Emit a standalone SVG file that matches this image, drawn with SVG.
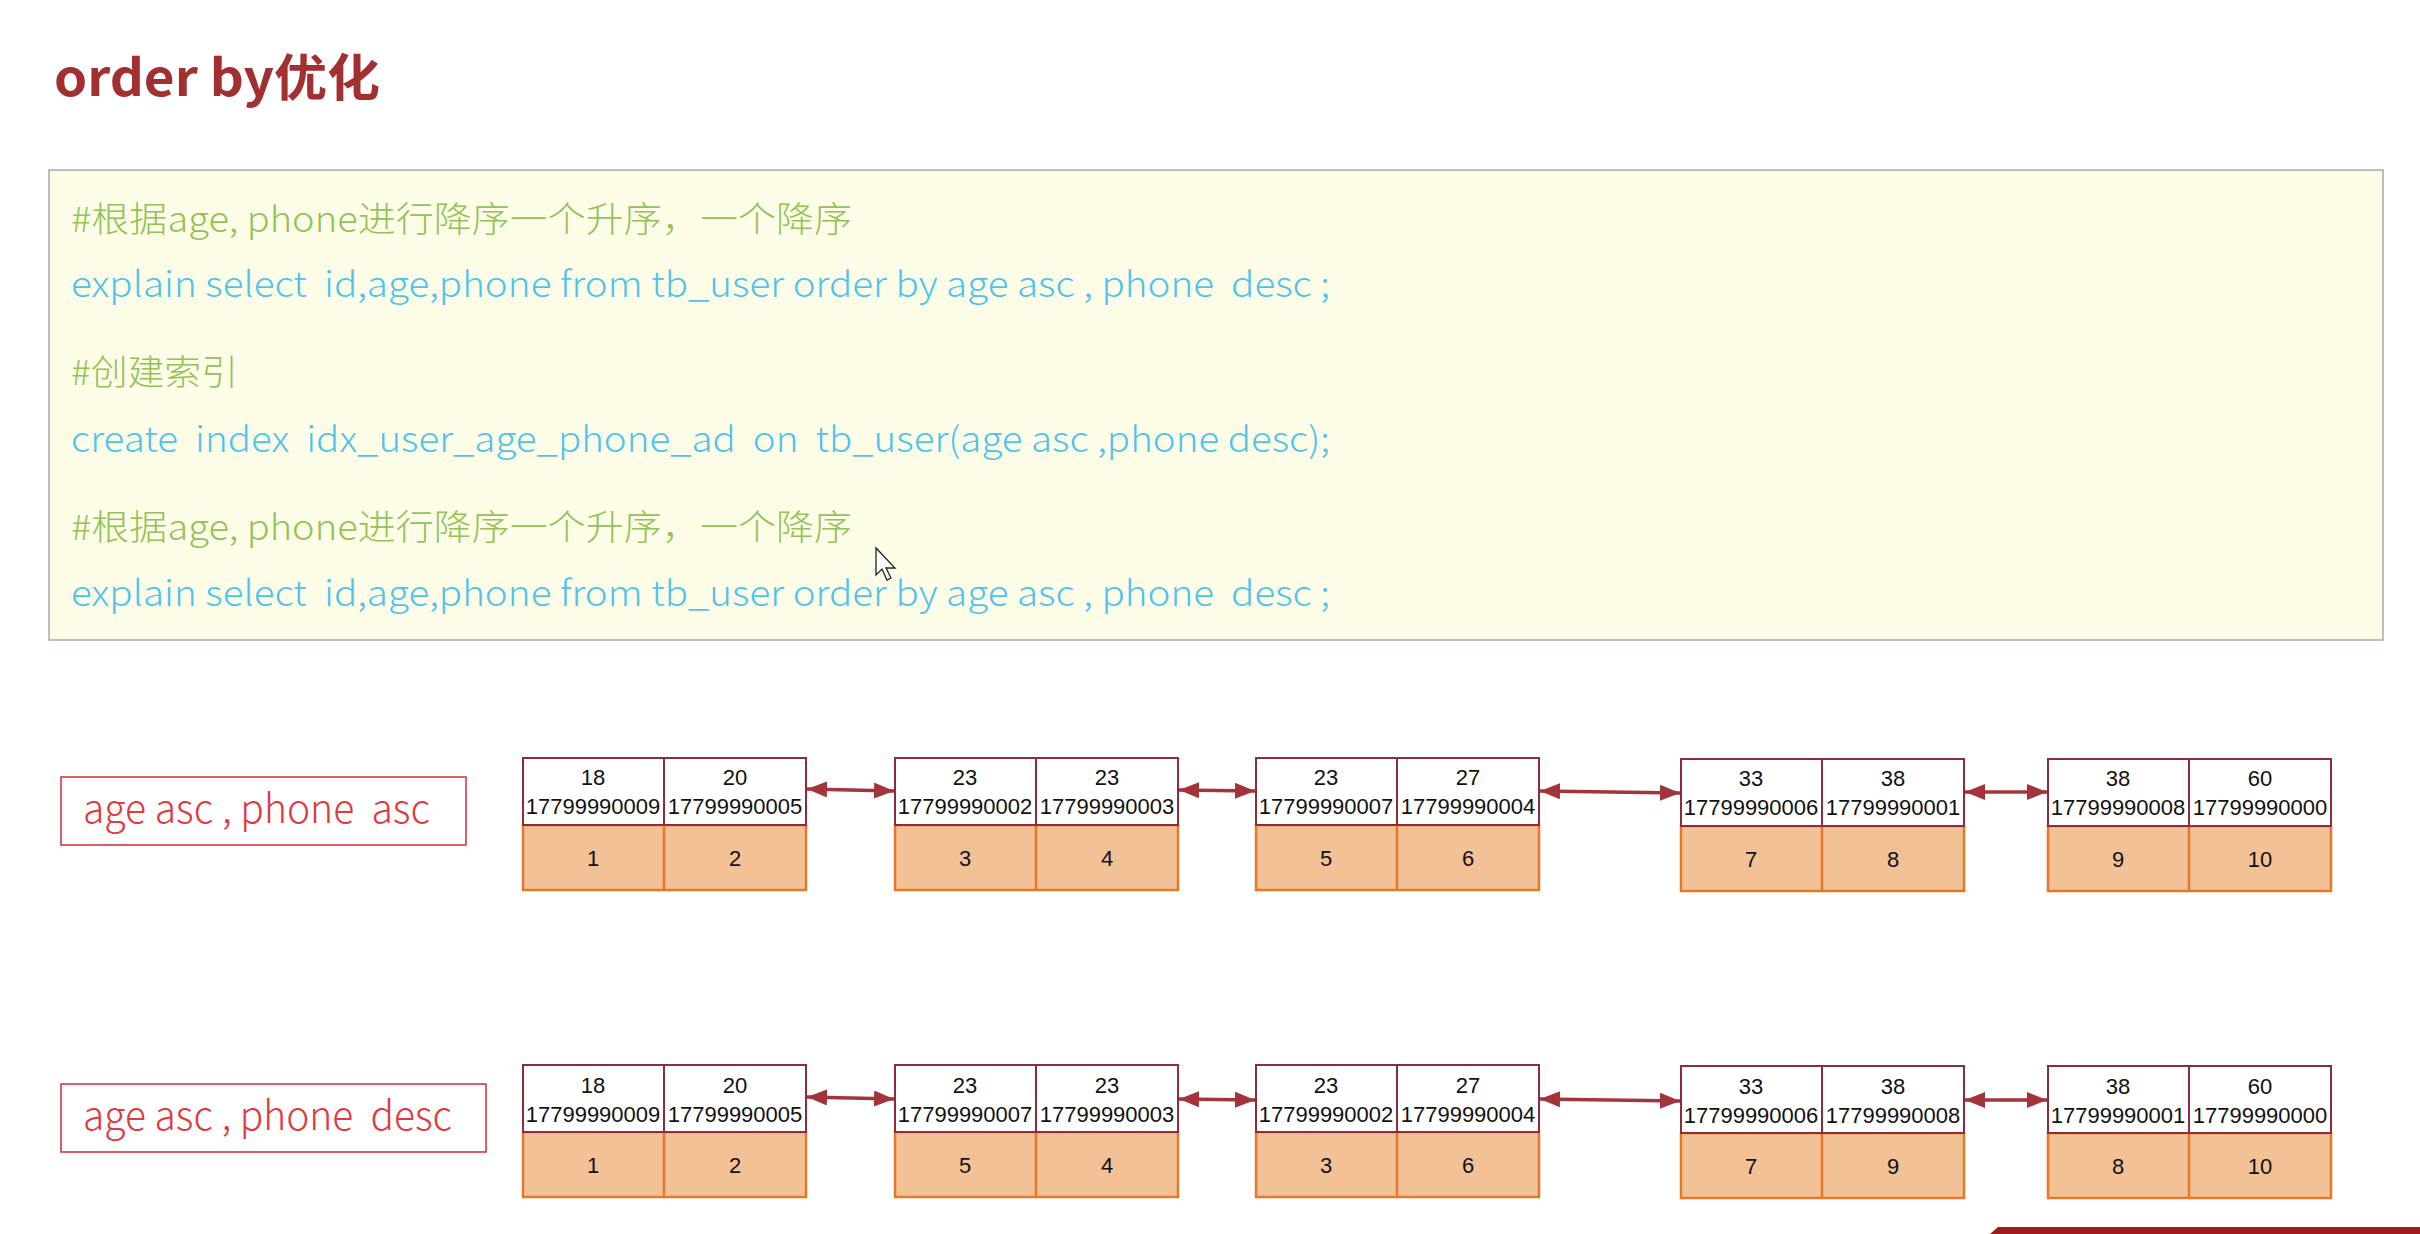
<svg xmlns="http://www.w3.org/2000/svg" width="2420" height="1234" viewBox="0 0 2420 1234">
<style>
.title{font-family:"Noto Sans CJK SC","Liberation Sans",sans-serif;font-weight:700;font-size:50px;fill:#a33030}
.code{font-family:"Noto Sans CJK SC","Liberation Sans",sans-serif;font-size:35px;font-weight:300;white-space:pre}
.cm{fill:#93c256}
.sql{fill:#4fc3ec}
.lbl{fill:#fff;stroke:#d8383e;stroke-width:1.6}
.lbt{font-family:"Noto Sans CJK SC","Liberation Sans",sans-serif;font-size:40px;font-weight:300;fill:#e03a3e;white-space:pre}
.key{fill:#fff;stroke:#8e2c3c;stroke-width:2}
.val{fill:#f2c196;stroke:#e5782a;stroke-width:2.5}
.t{font-family:"Liberation Sans",Arial,sans-serif;font-size:22px;fill:#111;text-anchor:middle}
.arr{stroke:#a3343a;stroke-width:3.5;fill:none;marker-start:url(#ah);marker-end:url(#ah)}
</style>
<defs>
<marker id="ah" viewBox="0 0 20 16" refX="20" refY="8" markerWidth="20" markerHeight="16" markerUnits="userSpaceOnUse" orient="auto-start-reverse">
<path d="M0,0 L20,8 L0,16 z" fill="#a3343a"/>
</marker>
<g id="nodeshape">
<rect class="val" x="0" y="67" width="283" height="65"/>
<line x1="141" y1="67" x2="141" y2="132" stroke="#e5782a" stroke-width="2.5"/>
<rect class="key" x="0" y="0" width="283" height="67"/>
<line x1="141" y1="0" x2="141" y2="67" stroke="#8e2c3c" stroke-width="2"/>
</g>
</defs>
<rect x="0" y="0" width="2420" height="1234" fill="#ffffff"/>
<text class="title" x="54" y="96" textLength="326" lengthAdjust="spacingAndGlyphs">order by优化</text>

<g id="codebox">
<rect x="49" y="170" width="2334" height="470" fill="#fdfde7" stroke="#aaaaa0" stroke-width="1.5"/>
<text class="code cm" x="71" y="232" textLength="781" lengthAdjust="spacingAndGlyphs">#根据age, phone进行降序一个升序，一个降序</text>
<text class="code sql" x="71" y="297" textLength="1259" lengthAdjust="spacingAndGlyphs">explain select  id,age,phone from tb_user order by age asc , phone  desc ;</text>
<text class="code cm" x="71" y="385" textLength="167" lengthAdjust="spacingAndGlyphs">#创建索引</text>
<text class="code sql" x="71" y="452" textLength="1259" lengthAdjust="spacingAndGlyphs">create  index  idx_user_age_phone_ad  on  tb_user(age asc ,phone desc);</text>
<text class="code cm" x="71" y="540" textLength="781" lengthAdjust="spacingAndGlyphs">#根据age, phone进行降序一个升序，一个降序</text>
<text class="code sql" x="71" y="606" textLength="1259" lengthAdjust="spacingAndGlyphs">explain select  id,age,phone from tb_user order by age asc , phone  desc ;</text>
</g>

<g id="label1">
<rect class="lbl" x="61" y="777" width="405" height="68"/>
<text class="lbt" x="83" y="823" textLength="347" lengthAdjust="spacingAndGlyphs">age asc , phone  asc</text>
</g>
<g id="label2">
<rect class="lbl" x="61" y="1084" width="425" height="68"/>
<text class="lbt" x="83" y="1130" textLength="369" lengthAdjust="spacingAndGlyphs">age asc , phone  desc</text>
</g>

<!-- Row 1 nodes -->
<g id="r1n1" transform="translate(523,758)">
<use href="#nodeshape"/>
<text class="t" x="70" y="27">18</text><text class="t" x="70" y="56">17799990009</text><text class="t" x="70" y="108">1</text>
<text class="t" x="212" y="27">20</text><text class="t" x="212" y="56">17799990005</text><text class="t" x="212" y="108">2</text>
</g>
<g id="r1n2" transform="translate(895,758)">
<use href="#nodeshape"/>
<text class="t" x="70" y="27">23</text><text class="t" x="70" y="56">17799990002</text><text class="t" x="70" y="108">3</text>
<text class="t" x="212" y="27">23</text><text class="t" x="212" y="56">17799990003</text><text class="t" x="212" y="108">4</text>
</g>
<g id="r1n3" transform="translate(1256,758)">
<use href="#nodeshape"/>
<text class="t" x="70" y="27">23</text><text class="t" x="70" y="56">17799990007</text><text class="t" x="70" y="108">5</text>
<text class="t" x="212" y="27">27</text><text class="t" x="212" y="56">17799990004</text><text class="t" x="212" y="108">6</text>
</g>
<g id="r1n4" transform="translate(1681,759)">
<use href="#nodeshape"/>
<text class="t" x="70" y="27">33</text><text class="t" x="70" y="56">17799990006</text><text class="t" x="70" y="108">7</text>
<text class="t" x="212" y="27">38</text><text class="t" x="212" y="56">17799990001</text><text class="t" x="212" y="108">8</text>
</g>
<g id="r1n5" transform="translate(2048,759)">
<use href="#nodeshape"/>
<text class="t" x="70" y="27">38</text><text class="t" x="70" y="56">17799990008</text><text class="t" x="70" y="108">9</text>
<text class="t" x="212" y="27">60</text><text class="t" x="212" y="56">17799990000</text><text class="t" x="212" y="108">10</text>
</g>

<!-- Row 2 nodes -->
<g id="r2n1" transform="translate(523,1065)">
<use href="#nodeshape"/>
<text class="t" x="70" y="28">18</text><text class="t" x="70" y="57">17799990009</text><text class="t" x="70" y="108">1</text>
<text class="t" x="212" y="28">20</text><text class="t" x="212" y="57">17799990005</text><text class="t" x="212" y="108">2</text>
</g>
<g id="r2n2" transform="translate(895,1065)">
<use href="#nodeshape"/>
<text class="t" x="70" y="28">23</text><text class="t" x="70" y="57">17799990007</text><text class="t" x="70" y="108">5</text>
<text class="t" x="212" y="28">23</text><text class="t" x="212" y="57">17799990003</text><text class="t" x="212" y="108">4</text>
</g>
<g id="r2n3" transform="translate(1256,1065)">
<use href="#nodeshape"/>
<text class="t" x="70" y="28">23</text><text class="t" x="70" y="57">17799990002</text><text class="t" x="70" y="108">3</text>
<text class="t" x="212" y="28">27</text><text class="t" x="212" y="57">17799990004</text><text class="t" x="212" y="108">6</text>
</g>
<g id="r2n4" transform="translate(1681,1066)">
<use href="#nodeshape"/>
<text class="t" x="70" y="28">33</text><text class="t" x="70" y="57">17799990006</text><text class="t" x="70" y="108">7</text>
<text class="t" x="212" y="28">38</text><text class="t" x="212" y="57">17799990008</text><text class="t" x="212" y="108">9</text>
</g>
<g id="r2n5" transform="translate(2048,1066)">
<use href="#nodeshape"/>
<text class="t" x="70" y="28">38</text><text class="t" x="70" y="57">17799990001</text><text class="t" x="70" y="108">8</text>
<text class="t" x="212" y="28">60</text><text class="t" x="212" y="57">17799990000</text><text class="t" x="212" y="108">10</text>
</g>

<g id="connectors">
<line class="arr" x1="807" y1="789" x2="894" y2="791"/>
<line class="arr" x1="1179" y1="790" x2="1255" y2="791"/>
<line class="arr" x1="1540" y1="791" x2="1680" y2="793"/>
<line class="arr" x1="1965" y1="792" x2="2047" y2="792"/>
<line class="arr" x1="807" y1="1097" x2="894" y2="1099"/>
<line class="arr" x1="1179" y1="1099" x2="1255" y2="1100"/>
<line class="arr" x1="1540" y1="1099" x2="1680" y2="1101"/>
<line class="arr" x1="1965" y1="1100" x2="2047" y2="1100"/>
</g>

<path d="M876,548 L876,575 L882,569 L887,580 L891,578 L886,568 L895,568 Z" fill="#fff" stroke="#222" stroke-width="1.3"/>
<path d="M1998,1227 L2420,1227 L2420,1234 L1990,1234 Z" fill="#a01c1c"/>
</svg>
